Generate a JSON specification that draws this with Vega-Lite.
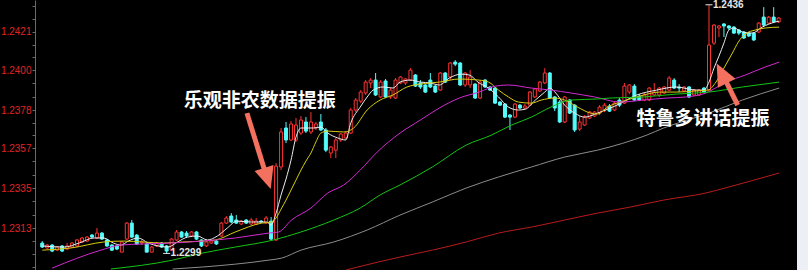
{
  "$schema": "https://vega.github.io/schema/vega-lite/v6.json",
  "width": 797,
  "height": 270,
  "autosize": {"type": "none"},
  "padding": {"left": 0, "top": 0, "right": 11, "bottom": 0},
  "background": "#eceff6",
  "config": {"view": {"fill": "#000000", "stroke": null}},
  "datasets": {
    "k": [
      {"i":0,"o":1.23047,"h":1.23058,"l":1.23020,"c":1.23025},
      {"i":1,"o":1.23020,"h":1.23042,"l":1.23014,"c":1.23036},
      {"i":2,"o":1.23036,"h":1.23042,"l":1.22997,"c":1.23003},
      {"i":3,"o":1.23008,"h":1.23031,"l":1.23003,"c":1.23025},
      {"i":4,"o":1.23031,"h":1.23036,"l":1.22997,"c":1.23003},
      {"i":5,"o":1.23014,"h":1.23047,"l":1.23008,"c":1.23031},
      {"i":6,"o":1.23025,"h":1.23053,"l":1.23020,"c":1.23047},
      {"i":7,"o":1.23031,"h":1.23069,"l":1.23025,"c":1.23064},
      {"i":8,"o":1.23053,"h":1.23080,"l":1.23047,"c":1.23075},
      {"i":9,"o":1.23058,"h":1.23086,"l":1.23053,"c":1.23080},
      {"i":10,"o":1.23091,"h":1.23097,"l":1.23075,"c":1.23080},
      {"i":11,"o":1.23075,"h":1.23130,"l":1.23069,"c":1.23102},
      {"i":12,"o":1.23102,"h":1.23108,"l":1.23064,"c":1.23069},
      {"i":13,"o":1.23064,"h":1.23069,"l":1.23025,"c":1.23031},
      {"i":14,"o":1.23036,"h":1.23042,"l":1.23003,"c":1.23008},
      {"i":15,"o":1.23031,"h":1.23036,"l":1.23008,"c":1.23014},
      {"i":16,"o":1.22997,"h":1.23058,"l":1.22997,"c":1.23053},
      {"i":17,"o":1.23069,"h":1.23163,"l":1.23064,"c":1.23157},
      {"i":18,"o":1.23157,"h":1.23174,"l":1.23075,"c":1.23080},
      {"i":19,"o":1.23091,"h":1.23097,"l":1.23036,"c":1.23042},
      {"i":20,"o":1.23047,"h":1.23064,"l":1.23036,"c":1.23053},
      {"i":21,"o":1.23042,"h":1.23047,"l":1.22997,"c":1.22997},
      {"i":22,"o":1.22997,"h":1.23031,"l":1.22997,"c":1.23025},
      {"i":23,"o":1.23031,"h":1.23053,"l":1.23025,"c":1.23047},
      {"i":24,"o":1.23047,"h":1.23053,"l":1.23020,"c":1.23025},
      {"i":25,"o":1.23031,"h":1.23036,"l":1.22990,"c":1.23003},
      {"i":26,"o":1.23008,"h":1.23075,"l":1.23003,"c":1.23069},
      {"i":27,"o":1.23064,"h":1.23119,"l":1.23058,"c":1.23108},
      {"i":28,"o":1.23108,"h":1.23113,"l":1.23075,"c":1.23080},
      {"i":29,"o":1.23102,"h":1.23113,"l":1.23075,"c":1.23086},
      {"i":30,"o":1.23086,"h":1.23113,"l":1.23080,"c":1.23108},
      {"i":31,"o":1.23108,"h":1.23113,"l":1.23064,"c":1.23069},
      {"i":32,"o":1.23064,"h":1.23069,"l":1.23025,"c":1.23031},
      {"i":33,"o":1.23031,"h":1.23058,"l":1.23025,"c":1.23053},
      {"i":34,"o":1.23047,"h":1.23064,"l":1.23042,"c":1.23058},
      {"i":35,"o":1.23058,"h":1.23064,"l":1.23036,"c":1.23042},
      {"i":36,"o":1.23086,"h":1.23163,"l":1.23080,"c":1.23157},
      {"i":37,"o":1.23157,"h":1.23196,"l":1.23152,"c":1.23185},
      {"i":38,"o":1.23196,"h":1.23212,"l":1.23157,"c":1.23163},
      {"i":39,"o":1.23174,"h":1.23201,"l":1.23152,"c":1.23157},
      {"i":40,"o":1.23152,"h":1.23174,"l":1.23146,"c":1.23168},
      {"i":41,"o":1.23174,"h":1.23179,"l":1.23152,"c":1.23157},
      {"i":42,"o":1.23152,"h":1.23185,"l":1.23146,"c":1.23174},
      {"i":43,"o":1.23152,"h":1.23185,"l":1.23146,"c":1.23168},
      {"i":44,"o":1.23168,"h":1.23174,"l":1.23157,"c":1.23163},
      {"i":45,"o":1.23157,"h":1.23196,"l":1.23152,"c":1.23185},
      {"i":46,"o":1.23168,"h":1.23190,"l":1.23064,"c":1.23069},
      {"i":47,"o":1.23064,"h":1.23488,"l":1.23058,"c":1.23471},
      {"i":48,"o":1.23466,"h":1.23681,"l":1.23449,"c":1.23659},
      {"i":49,"o":1.23681,"h":1.23714,"l":1.23598,"c":1.23615},
      {"i":50,"o":1.23615,"h":1.23719,"l":1.23609,"c":1.23703},
      {"i":51,"o":1.23615,"h":1.23736,"l":1.23604,"c":1.23697},
      {"i":52,"o":1.23653,"h":1.23747,"l":1.23642,"c":1.23725},
      {"i":53,"o":1.23714,"h":1.23741,"l":1.23653,"c":1.23664},
      {"i":54,"o":1.23659,"h":1.23769,"l":1.23648,"c":1.23714},
      {"i":55,"o":1.23681,"h":1.23714,"l":1.23670,"c":1.23703},
      {"i":56,"o":1.23714,"h":1.23758,"l":1.23664,"c":1.23670},
      {"i":57,"o":1.23670,"h":1.23681,"l":1.23548,"c":1.23559},
      {"i":58,"o":1.23543,"h":1.23582,"l":1.23515,"c":1.23576},
      {"i":59,"o":1.23559,"h":1.23626,"l":1.23515,"c":1.23615},
      {"i":60,"o":1.23615,"h":1.23653,"l":1.23604,"c":1.23648},
      {"i":61,"o":1.23626,"h":1.23664,"l":1.23615,"c":1.23653},
      {"i":62,"o":1.23653,"h":1.23791,"l":1.23648,"c":1.23780},
      {"i":63,"o":1.23780,"h":1.23846,"l":1.23769,"c":1.23835},
      {"i":64,"o":1.23829,"h":1.23890,"l":1.23818,"c":1.23879},
      {"i":65,"o":1.23874,"h":1.23945,"l":1.23863,"c":1.23934},
      {"i":66,"o":1.23929,"h":1.23956,"l":1.23901,"c":1.23945},
      {"i":67,"o":1.23945,"h":1.23984,"l":1.23857,"c":1.23863},
      {"i":68,"o":1.23852,"h":1.23945,"l":1.23846,"c":1.23934},
      {"i":69,"o":1.23940,"h":1.23951,"l":1.23846,"c":1.23852},
      {"i":70,"o":1.23852,"h":1.23901,"l":1.23841,"c":1.23890},
      {"i":71,"o":1.23846,"h":1.23956,"l":1.23841,"c":1.23945},
      {"i":72,"o":1.23929,"h":1.23967,"l":1.23923,"c":1.23962},
      {"i":73,"o":1.23929,"h":1.23956,"l":1.23918,"c":1.23951},
      {"i":74,"o":1.23945,"h":1.24011,"l":1.23940,"c":1.24000},
      {"i":75,"o":1.23973,"h":1.23978,"l":1.23907,"c":1.23912},
      {"i":76,"o":1.23929,"h":1.23945,"l":1.23896,"c":1.23907},
      {"i":77,"o":1.23918,"h":1.23923,"l":1.23874,"c":1.23879},
      {"i":78,"o":1.23945,"h":1.23984,"l":1.23901,"c":1.23907},
      {"i":79,"o":1.23912,"h":1.23918,"l":1.23874,"c":1.23879},
      {"i":80,"o":1.23890,"h":1.23989,"l":1.23885,"c":1.23984},
      {"i":81,"o":1.23984,"h":1.23989,"l":1.23929,"c":1.23934},
      {"i":82,"o":1.23962,"h":1.24044,"l":1.23945,"c":1.24039},
      {"i":83,"o":1.24044,"h":1.24055,"l":1.24022,"c":1.24033},
      {"i":84,"o":1.24039,"h":1.24044,"l":1.23912,"c":1.23918},
      {"i":85,"o":1.23918,"h":1.23989,"l":1.23907,"c":1.23984},
      {"i":86,"o":1.23918,"h":1.24000,"l":1.23901,"c":1.23962},
      {"i":87,"o":1.23923,"h":1.23929,"l":1.23841,"c":1.23846},
      {"i":88,"o":1.23846,"h":1.23945,"l":1.23841,"c":1.23934},
      {"i":89,"o":1.23945,"h":1.23951,"l":1.23901,"c":1.23907},
      {"i":90,"o":1.23907,"h":1.23912,"l":1.23885,"c":1.23890},
      {"i":91,"o":1.23901,"h":1.23907,"l":1.23813,"c":1.23818},
      {"i":92,"o":1.23824,"h":1.23829,"l":1.23802,"c":1.23807},
      {"i":93,"o":1.23813,"h":1.23818,"l":1.23736,"c":1.23741},
      {"i":94,"o":1.23752,"h":1.23758,"l":1.23670,"c":1.23741},
      {"i":95,"o":1.23741,"h":1.23818,"l":1.23736,"c":1.23813},
      {"i":96,"o":1.23807,"h":1.23813,"l":1.23785,"c":1.23791},
      {"i":97,"o":1.23791,"h":1.23813,"l":1.23780,"c":1.23802},
      {"i":98,"o":1.23807,"h":1.23885,"l":1.23802,"c":1.23879},
      {"i":99,"o":1.23852,"h":1.23901,"l":1.23846,"c":1.23896},
      {"i":100,"o":1.23885,"h":1.23940,"l":1.23879,"c":1.23934},
      {"i":101,"o":1.23929,"h":1.24011,"l":1.23923,"c":1.23984},
      {"i":102,"o":1.23984,"h":1.23989,"l":1.23841,"c":1.23846},
      {"i":103,"o":1.23852,"h":1.23857,"l":1.23774,"c":1.23791},
      {"i":104,"o":1.23824,"h":1.23835,"l":1.23708,"c":1.23714},
      {"i":105,"o":1.23714,"h":1.23857,"l":1.23708,"c":1.23852},
      {"i":106,"o":1.23835,"h":1.23841,"l":1.23758,"c":1.23763},
      {"i":107,"o":1.23807,"h":1.23813,"l":1.23659,"c":1.23670},
      {"i":108,"o":1.23675,"h":1.23747,"l":1.23664,"c":1.23714},
      {"i":109,"o":1.23697,"h":1.23752,"l":1.23692,"c":1.23741},
      {"i":110,"o":1.23736,"h":1.23774,"l":1.23730,"c":1.23769},
      {"i":111,"o":1.23747,"h":1.23774,"l":1.23741,"c":1.23769},
      {"i":112,"o":1.23763,"h":1.23807,"l":1.23752,"c":1.23796},
      {"i":113,"o":1.23780,"h":1.23818,"l":1.23769,"c":1.23807},
      {"i":114,"o":1.23802,"h":1.23813,"l":1.23769,"c":1.23774},
      {"i":115,"o":1.23780,"h":1.23829,"l":1.23774,"c":1.23818},
      {"i":116,"o":1.23835,"h":1.23846,"l":1.23796,"c":1.23807},
      {"i":117,"o":1.23818,"h":1.23929,"l":1.23813,"c":1.23912},
      {"i":118,"o":1.23879,"h":1.23923,"l":1.23868,"c":1.23918},
      {"i":119,"o":1.23912,"h":1.23923,"l":1.23829,"c":1.23835},
      {"i":120,"o":1.23857,"h":1.23868,"l":1.23829,"c":1.23835},
      {"i":121,"o":1.23835,"h":1.23874,"l":1.23829,"c":1.23863},
      {"i":122,"o":1.23835,"h":1.23907,"l":1.23829,"c":1.23901},
      {"i":123,"o":1.23863,"h":1.23929,"l":1.23857,"c":1.23879},
      {"i":124,"o":1.23863,"h":1.23907,"l":1.23852,"c":1.23901},
      {"i":125,"o":1.23874,"h":1.23912,"l":1.23868,"c":1.23907},
      {"i":126,"o":1.23890,"h":1.23967,"l":1.23885,"c":1.23956},
      {"i":127,"o":1.23945,"h":1.23956,"l":1.23896,"c":1.23901},
      {"i":128,"o":1.23907,"h":1.23923,"l":1.23879,"c":1.23901},
      {"i":129,"o":1.23885,"h":1.23912,"l":1.23879,"c":1.23907},
      {"i":130,"o":1.23907,"h":1.23912,"l":1.23846,"c":1.23852},
      {"i":131,"o":1.23863,"h":1.23896,"l":1.23857,"c":1.23890},
      {"i":132,"o":1.23863,"h":1.23896,"l":1.23857,"c":1.23890},
      {"i":133,"o":1.23901,"h":1.23907,"l":1.23874,"c":1.23879},
      {"i":134,"o":1.23890,"h":1.24360,"l":1.23885,"c":1.24138},
      {"i":135,"o":1.24149,"h":1.24254,"l":1.24138,"c":1.24248},
      {"i":136,"o":1.24232,"h":1.24248,"l":1.24182,"c":1.24243},
      {"i":137,"o":1.24254,"h":1.24259,"l":1.24182,"c":1.24243},
      {"i":138,"o":1.24243,"h":1.24248,"l":1.24221,"c":1.24232},
      {"i":139,"o":1.24237,"h":1.24243,"l":1.24199,"c":1.24204},
      {"i":140,"o":1.24221,"h":1.24226,"l":1.24193,"c":1.24204},
      {"i":141,"o":1.24210,"h":1.24215,"l":1.24171,"c":1.24177},
      {"i":142,"o":1.24204,"h":1.24210,"l":1.24182,"c":1.24188},
      {"i":143,"o":1.24204,"h":1.24210,"l":1.24160,"c":1.24166},
      {"i":144,"o":1.24210,"h":1.24265,"l":1.24204,"c":1.24259},
      {"i":145,"o":1.24292,"h":1.24347,"l":1.24243,"c":1.24248},
      {"i":146,"o":1.24259,"h":1.24298,"l":1.24254,"c":1.24292},
      {"i":147,"o":1.24292,"h":1.24347,"l":1.24259,"c":1.24265},
      {"i":148,"o":1.24265,"h":1.24292,"l":1.24259,"c":1.24287}
    ],
    "ma": [
      {"ma":"MA5","i":0,"v":1.23031},{"ma":"MA5","i":4.4,"v":1.23025},{"ma":"MA5","i":7.4,"v":1.23047},{"ma":"MA5","i":10.4,"v":1.23075},
      {"ma":"MA5","i":12.4,"v":1.23075},{"ma":"MA5","i":14.3,"v":1.23047},{"ma":"MA5","i":15.9,"v":1.23036},{"ma":"MA5","i":17.3,"v":1.23058},
      {"ma":"MA5","i":19.3,"v":1.23075},{"ma":"MA5","i":21.3,"v":1.23047},{"ma":"MA5","i":23.3,"v":1.23031},{"ma":"MA5","i":25.3,"v":1.23025},
      {"ma":"MA5","i":27.2,"v":1.23053},{"ma":"MA5","i":29.2,"v":1.23080},{"ma":"MA5","i":31.2,"v":1.23086},{"ma":"MA5","i":33.2,"v":1.23064},
      {"ma":"MA5","i":35.2,"v":1.23086},{"ma":"MA5","i":37.2,"v":1.23130},{"ma":"MA5","i":39.1,"v":1.23168},{"ma":"MA5","i":42.1,"v":1.23163},
      {"ma":"MA5","i":45.1,"v":1.23163},{"ma":"MA5","i":46,"v":1.23146},{"ma":"MA5","i":47,"v":1.23212},{"ma":"MA5","i":48,"v":1.23312},
      {"ma":"MA5","i":49,"v":1.23400},{"ma":"MA5","i":50,"v":1.23504},{"ma":"MA5","i":51,"v":1.23631},{"ma":"MA5","i":52,"v":1.23681},
      {"ma":"MA5","i":54.6,"v":1.23681},{"ma":"MA5","i":56,"v":1.23686},{"ma":"MA5","i":57.4,"v":1.23653},{"ma":"MA5","i":59.4,"v":1.23626},
      {"ma":"MA5","i":61,"v":1.23615},{"ma":"MA5","i":62,"v":1.23708},{"ma":"MA5","i":63.9,"v":1.23796},{"ma":"MA5","i":65.3,"v":1.23852},
      {"ma":"MA5","i":66.5,"v":1.23890},{"ma":"MA5","i":68.5,"v":1.23907},{"ma":"MA5","i":70.5,"v":1.23901},{"ma":"MA5","i":71.9,"v":1.23934},
      {"ma":"MA5","i":73.9,"v":1.23945},{"ma":"MA5","i":76,"v":1.23934},{"ma":"MA5","i":78,"v":1.23929},{"ma":"MA5","i":79.8,"v":1.23918},
      {"ma":"MA5","i":81.8,"v":1.23956},{"ma":"MA5","i":84.2,"v":1.23978},{"ma":"MA5","i":85.8,"v":1.23973},{"ma":"MA5","i":87.8,"v":1.23929},
      {"ma":"MA5","i":89.7,"v":1.23901},{"ma":"MA5","i":91.7,"v":1.23852},{"ma":"MA5","i":93.7,"v":1.23796},{"ma":"MA5","i":95.7,"v":1.23780},
      {"ma":"MA5","i":97.1,"v":1.23785},{"ma":"MA5","i":99.1,"v":1.23835},{"ma":"MA5","i":101,"v":1.23879},{"ma":"MA5","i":102,"v":1.23901},
      {"ma":"MA5","i":103.2,"v":1.23874},{"ma":"MA5","i":105,"v":1.23807},{"ma":"MA5","i":107,"v":1.23763},{"ma":"MA5","i":109,"v":1.23741},
      {"ma":"MA5","i":111.6,"v":1.23763},{"ma":"MA5","i":115.5,"v":1.23807},{"ma":"MA5","i":119.5,"v":1.23863},{"ma":"MA5","i":123.5,"v":1.23890},
      {"ma":"MA5","i":127.4,"v":1.23907},{"ma":"MA5","i":131.4,"v":1.23890},{"ma":"MA5","i":133,"v":1.23890},{"ma":"MA5","i":134,"v":1.23934},
      {"ma":"MA5","i":135,"v":1.24011},{"ma":"MA5","i":136,"v":1.24077},{"ma":"MA5","i":137,"v":1.24149},{"ma":"MA5","i":138,"v":1.24221},
      {"ma":"MA5","i":139,"v":1.24232},{"ma":"MA5","i":140.7,"v":1.24210},{"ma":"MA5","i":142.7,"v":1.24204},{"ma":"MA5","i":144.7,"v":1.24237},
      {"ma":"MA5","i":147.3,"v":1.24265},{"ma":"MA5","i":148.1,"v":1.24270},

      {"ma":"MA10","i":0,"v":1.23008},{"ma":"MA10","i":5.8,"v":1.23020},{"ma":"MA10","i":12.4,"v":1.23053},{"ma":"MA10","i":16.3,"v":1.23058},
      {"ma":"MA10","i":20.3,"v":1.23053},{"ma":"MA10","i":24.3,"v":1.23047},{"ma":"MA10","i":28.2,"v":1.23053},{"ma":"MA10","i":32.2,"v":1.23058},
      {"ma":"MA10","i":34.8,"v":1.23064},{"ma":"MA10","i":38.8,"v":1.23108},{"ma":"MA10","i":44.1,"v":1.23157},{"ma":"MA10","i":46.1,"v":1.23163},
      {"ma":"MA10","i":47,"v":1.23185},{"ma":"MA10","i":48,"v":1.23234},{"ma":"MA10","i":49,"v":1.23284},{"ma":"MA10","i":50,"v":1.23339},
      {"ma":"MA10","i":51,"v":1.23394},{"ma":"MA10","i":52,"v":1.23449},{"ma":"MA10","i":53,"v":1.23499},{"ma":"MA10","i":54,"v":1.23543},
      {"ma":"MA10","i":55,"v":1.23604},{"ma":"MA10","i":56,"v":1.23653},{"ma":"MA10","i":57.4,"v":1.23664},{"ma":"MA10","i":60.6,"v":1.23659},
      {"ma":"MA10","i":62.6,"v":1.23681},{"ma":"MA10","i":65.3,"v":1.23780},{"ma":"MA10","i":67.9,"v":1.23835},{"ma":"MA10","i":70.5,"v":1.23863},
      {"ma":"MA10","i":73.3,"v":1.23907},{"ma":"MA10","i":76,"v":1.23923},{"ma":"MA10","i":78,"v":1.23929},{"ma":"MA10","i":79.8,"v":1.23934},
      {"ma":"MA10","i":83.8,"v":1.23951},{"ma":"MA10","i":87.8,"v":1.23945},{"ma":"MA10","i":89.7,"v":1.23934},{"ma":"MA10","i":91.7,"v":1.23890},
      {"ma":"MA10","i":93.7,"v":1.23852},{"ma":"MA10","i":95.7,"v":1.23824},{"ma":"MA10","i":98.3,"v":1.23818},{"ma":"MA10","i":100.3,"v":1.23835},
      {"ma":"MA10","i":103,"v":1.23846},{"ma":"MA10","i":105,"v":1.23835},{"ma":"MA10","i":107.6,"v":1.23796},{"ma":"MA10","i":110.2,"v":1.23763},
      {"ma":"MA10","i":111.6,"v":1.23758},{"ma":"MA10","i":113.6,"v":1.23796},{"ma":"MA10","i":117.5,"v":1.23835},{"ma":"MA10","i":120.9,"v":1.23863},
      {"ma":"MA10","i":124.1,"v":1.23879},{"ma":"MA10","i":127.4,"v":1.23879},{"ma":"MA10","i":131.4,"v":1.23885},{"ma":"MA10","i":133.8,"v":1.23890},
      {"ma":"MA10","i":135.4,"v":1.23934},{"ma":"MA10","i":137,"v":1.24011},{"ma":"MA10","i":138.7,"v":1.24094},{"ma":"MA10","i":139.9,"v":1.24155},
      {"ma":"MA10","i":141.3,"v":1.24199},{"ma":"MA10","i":143.3,"v":1.24221},{"ma":"MA10","i":145.3,"v":1.24232},{"ma":"MA10","i":148.1,"v":1.24237},

      {"ma":"MA20","i":2,"v":1.22909},{"ma":"MA20","i":11.8,"v":1.23008},{"ma":"MA20","i":15.7,"v":1.23036},{"ma":"MA20","i":20.3,"v":1.23042},
      {"ma":"MA20","i":25.6,"v":1.23047},{"ma":"MA20","i":32.2,"v":1.23058},{"ma":"MA20","i":38.8,"v":1.23075},{"ma":"MA20","i":45.5,"v":1.23102},
      {"ma":"MA20","i":47.5,"v":1.23108},{"ma":"MA20","i":50.1,"v":1.23174},{"ma":"MA20","i":54,"v":1.23240},{"ma":"MA20","i":57.4,"v":1.23323},
      {"ma":"MA20","i":60.6,"v":1.23367},{"ma":"MA20","i":63.9,"v":1.23449},{"ma":"MA20","i":67.3,"v":1.23548},{"ma":"MA20","i":71.9,"v":1.23653},
      {"ma":"MA20","i":76,"v":1.23725},{"ma":"MA20","i":79.8,"v":1.23791},{"ma":"MA20","i":83.8,"v":1.23846},{"ma":"MA20","i":87.8,"v":1.23879},
      {"ma":"MA20","i":91.1,"v":1.23912},{"ma":"MA20","i":93.7,"v":1.23918},{"ma":"MA20","i":98.3,"v":1.23901},{"ma":"MA20","i":102.2,"v":1.23890},
      {"ma":"MA20","i":106.2,"v":1.23874},{"ma":"MA20","i":111,"v":1.23852},{"ma":"MA20","i":116.1,"v":1.23824},{"ma":"MA20","i":120.9,"v":1.23835},
      {"ma":"MA20","i":125.5,"v":1.23846},{"ma":"MA20","i":129.4,"v":1.23852},{"ma":"MA20","i":133.4,"v":1.23874},{"ma":"MA20","i":137.4,"v":1.23934},
      {"ma":"MA20","i":141.3,"v":1.23973},{"ma":"MA20","i":145.3,"v":1.24017},{"ma":"MA20","i":148.1,"v":1.24044},

      {"ma":"MA60","i":13.8,"v":1.22904},{"ma":"MA60","i":26.2,"v":1.22953},{"ma":"MA60","i":32.2,"v":1.22992},{"ma":"MA60","i":38.8,"v":1.23025},
      {"ma":"MA60","i":46.5,"v":1.23064},{"ma":"MA60","i":52,"v":1.23108},{"ma":"MA60","i":58.6,"v":1.23174},{"ma":"MA60","i":63.9,"v":1.23240},
      {"ma":"MA60","i":67.9,"v":1.23312},{"ma":"MA60","i":71.9,"v":1.23367},{"ma":"MA60","i":78.4,"v":1.23466},{"ma":"MA60","i":85.2,"v":1.23587},
      {"ma":"MA60","i":90.3,"v":1.23642},{"ma":"MA60","i":94.3,"v":1.23697},{"ma":"MA60","i":98.3,"v":1.23741},{"ma":"MA60","i":102.2,"v":1.23796},
      {"ma":"MA60","i":106.2,"v":1.23835},{"ma":"MA60","i":111.6,"v":1.23841},{"ma":"MA60","i":114.1,"v":1.23846},{"ma":"MA60","i":120.9,"v":1.23852},
      {"ma":"MA60","i":127.4,"v":1.23868},{"ma":"MA60","i":134,"v":1.23879},{"ma":"MA60","i":140.7,"v":1.23907},{"ma":"MA60","i":148.1,"v":1.23934},

      {"ma":"MA120","i":26.2,"v":1.22904},{"ma":"MA120","i":32.2,"v":1.22915},{"ma":"MA120","i":45.5,"v":1.22953},{"ma":"MA120","i":48.1,"v":1.22964},
      {"ma":"MA120","i":52,"v":1.23008},{"ma":"MA120","i":58.6,"v":1.23053},{"ma":"MA120","i":65.3,"v":1.23119},{"ma":"MA120","i":71.9,"v":1.23201},
      {"ma":"MA120","i":78.4,"v":1.23273},{"ma":"MA120","i":85.2,"v":1.23350},{"ma":"MA120","i":91.7,"v":1.23411},{"ma":"MA120","i":98.3,"v":1.23466},
      {"ma":"MA120","i":105,"v":1.23521},{"ma":"MA120","i":111.6,"v":1.23559},{"ma":"MA120","i":121.5,"v":1.23642},{"ma":"MA120","i":124.9,"v":1.23681},
      {"ma":"MA120","i":134,"v":1.23763},{"ma":"MA120","i":140.7,"v":1.23835},{"ma":"MA120","i":148.1,"v":1.23901},

      {"ma":"MA250","i":61,"v":1.22898},{"ma":"MA250","i":63.4,"v":1.22915},{"ma":"MA250","i":71.9,"v":1.22970},{"ma":"MA250","i":78.4,"v":1.23008},
      {"ma":"MA250","i":85.2,"v":1.23053},{"ma":"MA250","i":91.7,"v":1.23102},{"ma":"MA250","i":98.3,"v":1.23135},{"ma":"MA250","i":105,"v":1.23174},
      {"ma":"MA250","i":111.6,"v":1.23212},{"ma":"MA250","i":118.1,"v":1.23245},{"ma":"MA250","i":124.9,"v":1.23284},{"ma":"MA250","i":133.4,"v":1.23323},
      {"ma":"MA250","i":138,"v":1.23356},{"ma":"MA250","i":148.1,"v":1.23433}
    ],
    "notes": [
      {"t":"乐观非农数据提振","i":43.7,"p":1.23829},
      {"t":"特鲁多讲话提振","i":132.8,"p":1.2373}
    ],
    "arrows": [
      {"id":"nfp","i":41.14,"p":1.23763,"i2":44.81,"p2":1.23438,"hi":45.25,"hp":1.23403},
      {"id":"trudeau","i":139.77,"p":1.23807,"i2":137.29,"p2":1.23945,"hi":136.55,"hp":1.23982}
    ]
  },
  "layer": [
    {
      "data": {"name": "k"},
      "mark": {"type": "rule", "strokeWidth": 1},
      "encoding": {
        "x": {"field": "i", "type": "quantitative", "scale": {"domain": [-7.48, 150.68], "nice": false, "zero": false}, "axis": null},
        "y": {
          "field": "l", "type": "quantitative",
          "scale": {"domain": [1.228986, 1.243863], "nice": false, "zero": false},
          "axis": {
            "orient": "left", "offset": -35, "title": null, "grid": false,
            "values": [1.22914, 1.22986, 1.23058, 1.2313, 1.23203, 1.23277, 1.2335, 1.23423, 1.23497, 1.2357, 1.2364, 1.2371, 1.2378, 1.23853, 1.23927, 1.24, 1.2407, 1.2414, 1.2421, 1.24282, 1.24354],
            "tickCount": 100,
            "format": ".4f",
            "labelExpr": "indexof(['1.2313','1.2335','1.2357','1.2378','1.2400','1.2421'], datum.label) >= 0 ? datum.label : ''",
            "labelColor": "#e02424", "labelFont": "Liberation Sans", "labelFontSize": 10,
            "labelPadding": 1, "labelOverlap": false, "labelBound": false,
            "tickSize": 3, "tickColor": "#6a6a6a", "domainColor": "#6a6a6a", "domainWidth": 1
          }
        },
        "y2": {"field": "h"},
        "color": {"condition": {"test": "datum.c >= datum.o", "value": "#ff3232"}, "value": "#54fcfc"}
      }
    },
    {
      "data": {"name": "k"},
      "mark": {"type": "bar", "orient": "vertical", "width": 3, "strokeWidth": 1},
      "encoding": {
        "x": {"field": "i", "type": "quantitative", "scale": {"domain": [-7.48, 150.68], "nice": false, "zero": false}, "axis": null},
        "y": {"field": "o", "type": "quantitative", "scale": {"domain": [1.228986, 1.243863], "nice": false, "zero": false}},
        "y2": {"field": "c"},
        "fill": {"condition": {"test": "datum.c >= datum.o", "value": "#000000"}, "value": "#54fcfc"},
        "stroke": {"condition": {"test": "datum.c >= datum.o", "value": "#ff3232"}, "value": "#54fcfc"}
      }
    },
    {
      "data": {"name": "ma"},
      "mark": {"type": "line", "strokeWidth": 1, "interpolate": "monotone", "clip": true},
      "encoding": {
        "x": {"field": "i", "type": "quantitative", "scale": {"domain": [-7.48, 150.68], "nice": false, "zero": false}, "axis": null},
        "y": {"field": "v", "type": "quantitative", "scale": {"domain": [1.228986, 1.243863], "nice": false, "zero": false}},
        "color": {
          "field": "ma", "type": "nominal", "legend": null,
          "scale": {"domain": ["MA5", "MA10", "MA20", "MA60", "MA120", "MA250"], "range": ["#ececec", "#d8cc10", "#d22ad2", "#14c414", "#8c8c8c", "#b81c1c"]}
        },
        "order": {"field": "i", "type": "quantitative"}
      }
    },
    {
      "data": {"name": "notes"},
      "mark": {"type": "text", "font": "Noto Sans CJK SC", "fontSize": 19, "fontWeight": "bold", "color": "#ffffff", "align": "center", "baseline": "middle"},
      "encoding": {
        "x": {"field": "i", "type": "quantitative", "scale": {"domain": [-7.48, 150.68], "nice": false, "zero": false}, "axis": null},
        "y": {"field": "p", "type": "quantitative", "scale": {"domain": [1.228986, 1.243863], "nice": false, "zero": false}},
        "text": {"field": "t"}
      }
    },
    {
      "data": {"name": "arrows"},
      "mark": {"type": "rule", "strokeWidth": 5, "color": "#f4705f", "strokeCap": "butt"},
      "encoding": {
        "x": {"field": "i", "type": "quantitative", "scale": {"domain": [-7.48, 150.68], "nice": false, "zero": false}, "axis": null},
        "y": {"field": "p", "type": "quantitative", "scale": {"domain": [1.228986, 1.243863], "nice": false, "zero": false}},
        "x2": {"field": "i2"},
        "y2": {"field": "p2"}
      }
    },
    {
      "data": {"name": "arrows"},
      "transform": [{"filter": "datum.id == 'nfp'"}],
      "mark": {"type": "point", "shape": "M-0.9,-1L0.9,-1L0,1Z", "size": 484, "filled": true, "opacity": 1, "color": "#f4705f", "strokeWidth": 0, "angle": -17.5},
      "encoding": {
        "x": {"field": "hi", "type": "quantitative", "scale": {"domain": [-7.48, 150.68], "nice": false, "zero": false}, "axis": null},
        "y": {"field": "hp", "type": "quantitative", "scale": {"domain": [1.228986, 1.243863], "nice": false, "zero": false}}
      }
    },
    {
      "data": {"name": "arrows"},
      "transform": [{"filter": "datum.id == 'trudeau'"}],
      "mark": {"type": "point", "shape": "M-0.9,-1L0.9,-1L0,1Z", "size": 484, "filled": true, "opacity": 1, "color": "#f4705f", "strokeWidth": 0, "angle": 152.9},
      "encoding": {
        "x": {"field": "hi", "type": "quantitative", "scale": {"domain": [-7.48, 150.68], "nice": false, "zero": false}, "axis": null},
        "y": {"field": "hp", "type": "quantitative", "scale": {"domain": [1.228986, 1.243863], "nice": false, "zero": false}}
      }
    },
    {
      "data": {"name": "k"},
      "transform": [{"filter": "datum.i == 134"}],
      "mark": {"type": "tick", "orient": "horizontal", "size": 7, "thickness": 1, "color": "#e6e6e6", "opacity": 1},
      "encoding": {
        "x": {"field": "i", "type": "quantitative", "scale": {"domain": [-7.48, 150.68], "nice": false, "zero": false}, "axis": null},
        "y": {"field": "h", "type": "quantitative", "scale": {"domain": [1.228986, 1.243863], "nice": false, "zero": false}}
      }
    },
    {
      "data": {"name": "k"},
      "transform": [{"filter": "datum.i == 134"}],
      "mark": {"type": "text", "font": "Liberation Sans", "fontSize": 10, "fontWeight": "bold", "color": "#e6e6e6", "align": "left", "baseline": "middle", "dx": 4},
      "encoding": {
        "x": {"field": "i", "type": "quantitative", "scale": {"domain": [-7.48, 150.68], "nice": false, "zero": false}, "axis": null},
        "y": {"field": "h", "type": "quantitative", "scale": {"domain": [1.228986, 1.243863], "nice": false, "zero": false}},
        "text": {"field": "h", "type": "quantitative", "format": ".4f"}
      }
    },
    {
      "data": {"name": "k"},
      "transform": [{"filter": "datum.i == 25"}],
      "mark": {"type": "tick", "orient": "horizontal", "size": 7, "thickness": 1, "color": "#e6e6e6", "opacity": 1},
      "encoding": {
        "x": {"field": "i", "type": "quantitative", "scale": {"domain": [-7.48, 150.68], "nice": false, "zero": false}, "axis": null},
        "y": {"field": "l", "type": "quantitative", "scale": {"domain": [1.228986, 1.243863], "nice": false, "zero": false}}
      }
    },
    {
      "data": {"name": "k"},
      "transform": [{"filter": "datum.i == 25"}],
      "mark": {"type": "text", "font": "Liberation Sans", "fontSize": 10, "fontWeight": "bold", "color": "#e6e6e6", "align": "left", "baseline": "middle", "dx": 4},
      "encoding": {
        "x": {"field": "i", "type": "quantitative", "scale": {"domain": [-7.48, 150.68], "nice": false, "zero": false}, "axis": null},
        "y": {"field": "l", "type": "quantitative", "scale": {"domain": [1.228986, 1.243863], "nice": false, "zero": false}},
        "text": {"field": "l", "type": "quantitative", "format": ".4f"}
      }
    }
  ]
}
